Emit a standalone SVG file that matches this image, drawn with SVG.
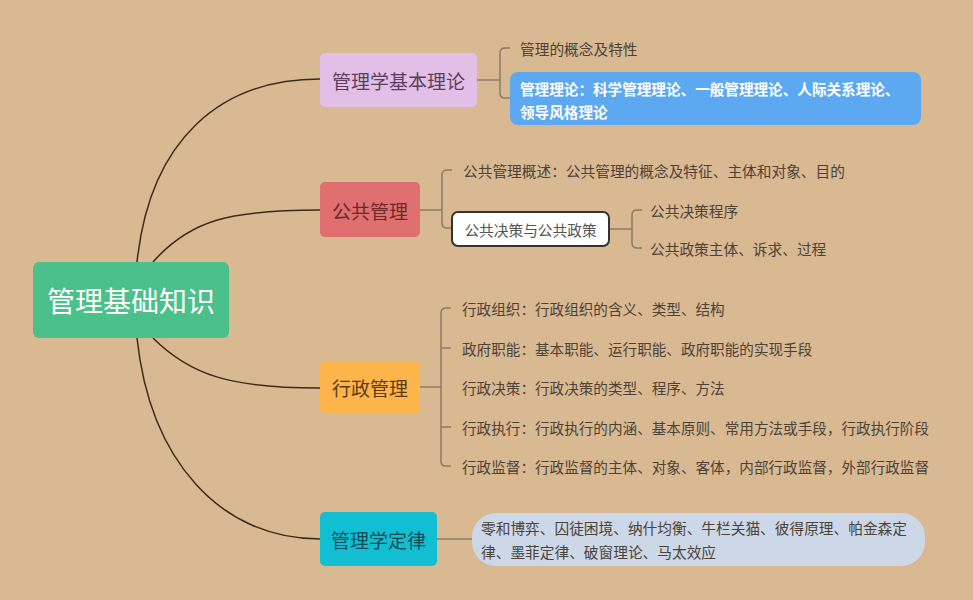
<svg xmlns="http://www.w3.org/2000/svg" width="973" height="600" viewBox="0 0 973 600">
<style>
text{font-family:"Noto Sans CJK SC","Noto Sans",sans-serif;dominant-baseline:central}
.main{fill:none;stroke:#3b2b1c;stroke-width:1.5}
.br{fill:none;stroke:#8c7b68;stroke-width:1.5}
.t{font-size:14.7px;fill:#4d4238}
.t15{font-size:14.6px;fill:#4d4238}
.n{font-size:19px;text-anchor:middle}
</style>
<rect width="973" height="600" fill="#d9b992"/>
<g id="connectors">
<path class="main" d="M137,262 C150,140 220,79 320,79"/>
<path class="main" d="M153,262 C190,220 230,210 320,210"/>
<path class="main" d="M153,338 C190,375 230,388 320,388"/>
<path class="main" d="M137,338 C150,460 220,539 320,539"/>
<path class="br" d="M477,80 H500 M510,48 H505 Q500,48 500,53 V93 Q500,98 505,98 H510"/>
<path class="br" d="M420,210 H442 M452,170 H447 Q442,170 442,175 V223 Q442,228 447,228 H452"/>
<path class="br" d="M609,229 H632 M642,210 H637 Q632,210 632,215 V243 Q632,248 637,248 H642"/>
<path class="br" d="M420,387 H441 M451,308 H446 Q441,308 441,313 V461 Q441,466 446,466 H451 M441,348 H451 M441,427 H451"/>
<path class="br" d="M437,539 H472"/>
</g>
<g id="root">
<rect x="33" y="262" width="196" height="76" rx="6" fill="#4cc08a"/>
<text x="131" y="300" font-size="28" fill="#ffffff" text-anchor="middle">管理基础知识</text>
</g>
<g id="n-basic">
<rect x="320" y="53" width="157" height="54" rx="5" fill="#e2bfe7"/>
<text class="n" x="398.5" y="80" fill="#5a3f5c">管理学基本理论</text>
</g>
<g id="n-basic-1">
<text class="t" x="520" y="48">管理的概念及特性</text>
</g>
<g id="n-basic-2">
<rect x="510" y="72" width="411" height="53" rx="8" fill="#5da9f1"/>
<text x="520" y="88" font-size="14.6" font-weight="bold" fill="#ffffff">管理理论：科学管理理论、一般管理理论、人际关系理论、</text>
<text x="520" y="111" font-size="14.6" font-weight="bold" fill="#ffffff">领导风格理论</text>
</g>
<g id="n-public">
<rect x="320" y="182" width="100" height="55" rx="5" fill="#e06f6f"/>
<text class="n" x="370" y="210" fill="#6a2b2b">公共管理</text>
</g>
<g id="n-public-1">
<text class="t" x="463" y="170">公共管理概述：公共管理的概念及特征、主体和对象、目的</text>
</g>
<g id="n-public-2">
<rect x="452" y="212" width="157" height="34" rx="6" fill="#ffffff" stroke="#333333" stroke-width="2"/>
<text x="530.5" y="229" font-size="14.7" fill="#555555" text-anchor="middle">公共决策与公共政策</text>
</g>
<g id="n-public-2a">
<text class="t" x="650" y="210">公共决策程序</text>
</g>
<g id="n-public-2b">
<text class="t" x="650" y="248">公共政策主体、诉求、过程</text>
</g>
<g id="n-admin">
<rect x="320" y="361" width="100" height="52" rx="5" fill="#fdb54b"/>
<text class="n" x="370" y="387" fill="#5a3b14">行政管理</text>
</g>
<g id="n-admin-1"><text class="t15" x="462" y="308">行政组织：行政组织的含义、类型、结构</text></g>
<g id="n-admin-2"><text class="t15" x="462" y="348">政府职能：基本职能、运行职能、政府职能的实现手段</text></g>
<g id="n-admin-3"><text class="t15" x="462" y="387">行政决策：行政决策的类型、程序、方法</text></g>
<g id="n-admin-4"><text class="t15" x="462" y="427">行政执行：行政执行的内涵、基本原则、常用方法或手段，行政执行阶段</text></g>
<g id="n-admin-5"><text class="t15" x="462" y="466">行政监督：行政监督的主体、对象、客体，内部行政监督，外部行政监督</text></g>
<g id="n-laws">
<rect x="320" y="512" width="117" height="54" rx="5" fill="#12bfd2"/>
<text class="n" x="378.5" y="539" fill="#0f4a55">管理学定律</text>
</g>
<g id="n-laws-1">
<rect x="472" y="513" width="453" height="53" rx="24" fill="#ccd8e8"/>
<text class="t" x="481" y="527" fill="#333333">零和博弈、囚徒困境、纳什均衡、牛栏关猫、彼得原理、帕金森定</text>
<text class="t" x="481" y="551" fill="#333333">律、墨菲定律、破窗理论、马太效应</text>
</g>
</svg>
